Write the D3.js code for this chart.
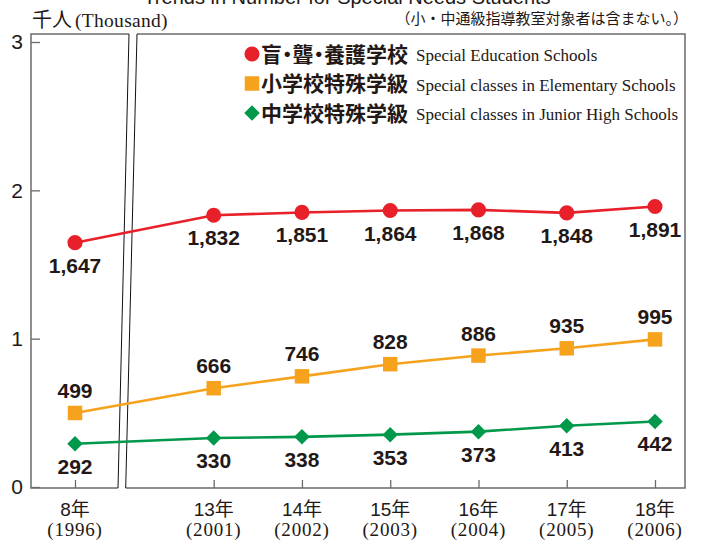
<!DOCTYPE html>
<html>
<head>
<meta charset="utf-8">
<script src="https://cdn.jsdelivr.net/npm/d3@7"></script>
<style>
  body { margin: 0; background: #fff; }
  .num { font-family: "Liberation Sans", Arial, sans-serif; font-weight: bold; font-size: 21px; fill: #231815; }
  .jp { font-family: "Noto Sans CJK JP", sans-serif; }
  .serif { font-family: "Liberation Serif", "Times New Roman", serif; }
</style>
</head>
<body>
<div id="chart"></div>
<script>
// DATA
const years = [1996, 2001, 2002, 2003, 2004, 2005, 2006];
const eraLabels = ["8年", "13年", "14年", "15年", "16年", "17年", "18年"];
const schools = [1647, 1832, 1851, 1864, 1868, 1848, 1891];      // 盲・聾・養護学校
const elementary = [499, 666, 746, 828, 886, 935, 995];          // 小学校特殊学級
const juniorHigh = [292, 330, 338, 353, 373, 413, 442];          // 中学校特殊学級
const yTicks = [0, 1, 2, 3];

const width = 701, height = 540;
const margin = {top: 34, left: 31, right: 16, bottom: 52};

const svg = d3.select("#chart").append("svg")
    .attr("width", width)
    .attr("height", height);

// SCALES - broken axis between 1996 and 2001
const xScale = d3.scaleLinear()
    .domain([1996, 2001, 2006])
    .range([75, 213.7, 655]);

const yScale = d3.scaleLinear()
    .domain([0, 3])
    .range([487, 42]);

const ink = "#231815";
const frameColor = "#6b6b6b";
const base = 488;
const right = width - margin.right;

// FRAME (two panels with slanted break)
svg.append("path")
    .attr("d", `M129,${margin.top} L${margin.left},${margin.top} L${margin.left},${base} L118,${base}`)
    .attr("fill", "none").attr("stroke", frameColor).attr("stroke-width", 1.5);
svg.append("path")
    .attr("d", `M125.7,${base} L${right},${base} L${right},${margin.top} L137,${margin.top}`)
    .attr("fill", "none").attr("stroke", frameColor).attr("stroke-width", 1.5);
svg.append("line").attr("x1", 129).attr("y1", margin.top).attr("x2", 118).attr("y2", base)
    .attr("stroke", "#111").attr("stroke-width", 1);
svg.append("line").attr("x1", 137).attr("y1", margin.top).attr("x2", 125.7).attr("y2", base)
    .attr("stroke", "#111").attr("stroke-width", 1);

// AXES
const yAxis = svg.append("g")
    .attr("transform", `translate(${margin.left},0)`)
    .call(d3.axisLeft(yScale).tickValues(yTicks).tickSize(-9).tickPadding(8).tickFormat(d3.format("d")));
yAxis.select(".domain").remove();
yAxis.selectAll("line").attr("stroke", frameColor).attr("stroke-width", 1.3);
yAxis.selectAll("text")
    .attr("fill", ink)
    .style("font-family", "'Liberation Sans', Arial, sans-serif")
    .style("font-size", "21px");

const xAxis = svg.append("g")
    .attr("transform", `translate(0,${base})`)
    .call(d3.axisBottom(xScale).tickValues(years).tickSize(-8).tickFormat(""));
xAxis.select(".domain").remove();
xAxis.selectAll("line").attr("stroke", frameColor).attr("stroke-width", 1.3);

const xLab = svg.append("g").selectAll("g")
    .data(years)
    .enter().append("g")
    .attr("transform", d => `translate(${xScale(d)},0)`);
xLab.append("text")
    .attr("y", 516)
    .attr("text-anchor", "middle")
    .attr("fill", ink)
    .style("font-family", "'Liberation Sans', 'Noto Sans CJK JP', sans-serif")
    .style("font-size", "19px")
    .text((d, i) => eraLabels[i]);
xLab.append("text")
    .attr("class", "serif")
    .attr("y", 536)
    .attr("text-anchor", "middle")
    .attr("fill", ink)
    .style("font-size", "19px")
    .style("letter-spacing", "0.8px")
    .text(d => `(${d})`);

// TITLES
svg.append("text")
    .attr("x", 347).attr("y", 4)
    .attr("text-anchor", "middle")
    .attr("fill", ink)
    .style("font-family", "'Liberation Sans', Arial, sans-serif")
    .style("font-size", "20px")
    .text("Trends in Number for Special Needs Students");

const unit = svg.append("text")
    .attr("x", 32).attr("y", 27)
    .attr("fill", ink);
unit.append("tspan").attr("class", "jp").style("font-size", "20px").text("千人");
unit.append("tspan").attr("class", "serif").attr("dx", 3).style("font-size", "19.5px")
    .style("letter-spacing", "0.3px").text("(Thousand)");

svg.append("text")
    .attr("class", "jp")
    .attr("x", 688).attr("y", 24)
    .attr("text-anchor", "end")
    .attr("fill", ink)
    .style("font-size", "15px")
    .text("（小・中通級指導教室対象者は含まない。）");

// SERIES
const diamond = d3.symbol().type(d3.symbolSquare).size(120);
const series = [
    {name: "盲・聾・養護学校", en: "Special Education Schools", values: schools, color: "#e8202a", sym: d3.symbol().type(d3.symbolCircle).size(180), rot: 0, dy: 30},
    {name: "小学校特殊学級", en: "Special classes in Elementary Schools", values: elementary, color: "#f6a21c", sym: d3.symbol().type(d3.symbolSquare).size(210), rot: 0, dy: -15},
    {name: "中学校特殊学級", en: "Special classes in Junior High Schools", values: juniorHigh, color: "#00984a", sym: diamond, rot: 45, dy: 30}
];

const line = d3.line()
    .x((d, i) => xScale(years[i]))
    .y(d => yScale(d / 1000));

series.forEach(function(s) {
    svg.append("path")
        .datum(s.values)
        .attr("d", line)
        .attr("fill", "none")
        .attr("stroke", s.color)
        .attr("stroke-width", 2.6);

    svg.append("g").selectAll("path")
        .data(s.values)
        .enter().append("path")
        .attr("d", s.sym)
        .attr("transform", (d, i) => `translate(${xScale(years[i])},${yScale(d / 1000)})rotate(${s.rot})`)
        .attr("fill", s.color);

    svg.append("g").selectAll("text")
        .data(s.values)
        .enter().append("text")
        .attr("class", "num")
        .attr("x", (d, i) => xScale(years[i]))
        .attr("y", d => yScale(d / 1000) + s.dy)
        .attr("text-anchor", "middle")
        .text(d => d3.format(",")(d));
});

// LEGEND
const legend = svg.append("g").selectAll("g")
    .data(series)
    .enter().append("g")
    .attr("transform", (d, i) => `translate(252,${54 + i * 29.5})`);
legend.append("path")
    .attr("d", d => d.sym())
    .attr("transform", d => `rotate(${d.rot})`)
    .attr("fill", d => d.color);
legend.append("text")
    .attr("class", "jp")
    .attr("x", 9).attr("y", 7.5)
    .attr("fill", ink)
    .style("font-size", "21px")
    .style("font-weight", "bold")
    .style("font-feature-settings", "'palt'")
    .text(d => d.name);
legend.append("text")
    .attr("class", "serif")
    .attr("x", 164).attr("y", 7)
    .attr("fill", ink)
    .style("font-size", "17px")
    .text(d => d.en);
</script>
</body>
</html>
